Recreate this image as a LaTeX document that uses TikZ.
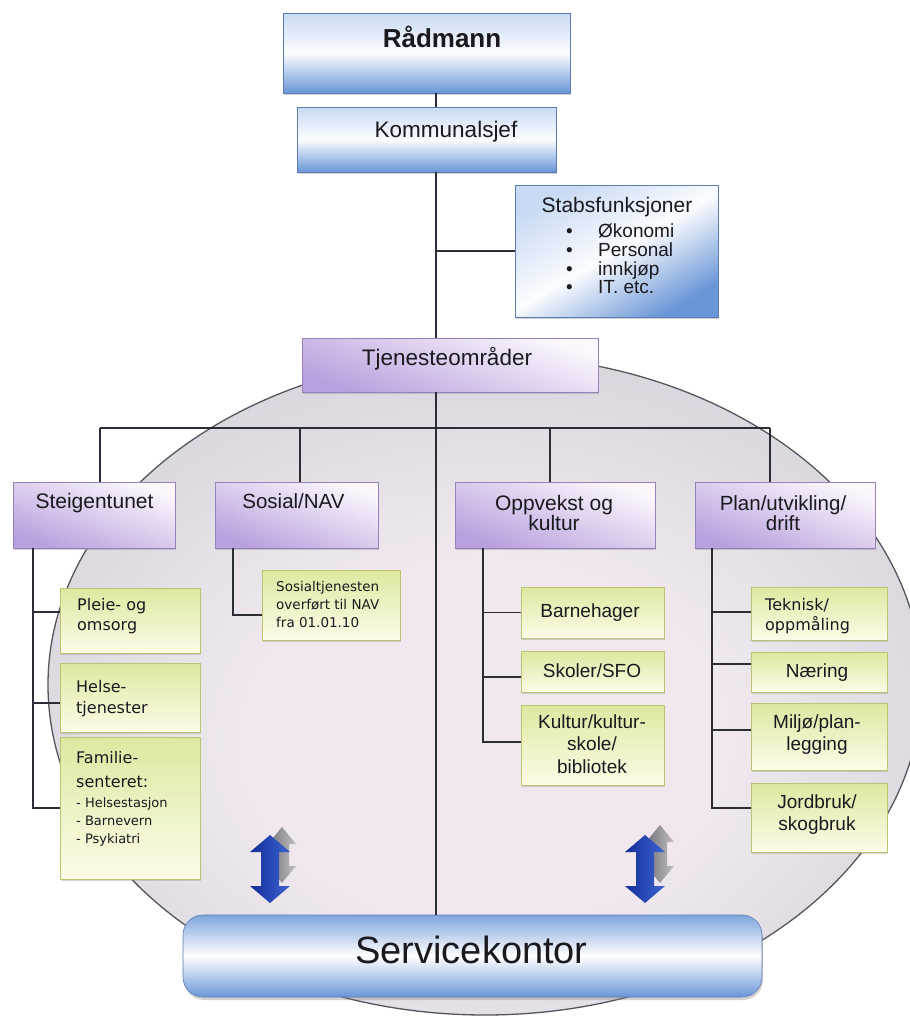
\documentclass[tikz,border=0pt]{standalone}
\usepackage{fontspec}
\setmainfont{Liberation Sans}
\newfontfamily\dvfont{DejaVu Sans}
\usetikzlibrary{shadows}
\definecolor{txtC}{RGB}{25,25,30}
\definecolor{lineC}{RGB}{45,45,55}
\definecolor{blT}{RGB}{200,218,244}
\definecolor{blB}{RGB}{105,150,215}
\definecolor{blE}{RGB}{90,125,180}
\definecolor{puT}{RGB}{253,247,253}
\definecolor{puB}{RGB}{185,160,222}
\definecolor{puE}{RGB}{150,130,185}
\definecolor{grT}{RGB}{222,232,160}
\definecolor{grB}{RGB}{252,252,232}
\definecolor{grE}{RGB}{190,195,110}
\definecolor{ellC}{RGB}{240,232,238}
\definecolor{ellM}{RGB}{212,209,218}
\definecolor{ellE}{RGB}{145,145,162}
\definecolor{ellL}{RGB}{85,85,92}
\definecolor{arB1}{RGB}{20,45,150}
\definecolor{arB2}{RGB}{60,100,210}
\definecolor{arG1}{RGB}{115,115,120}
\definecolor{arG2}{RGB}{190,190,195}
\pgfdeclareradialshading{ellshade}{\pgfpoint{0bp}{-6bp}}{color(0bp)=(ellC); color(14bp)=(ellC); color(32bp)=(ellM); color(50bp)=(ellE)}
\newcommand{\fsz}[2]{\fontsize{#1}{#2}\selectfont}
\newcommand{\boxat}[6]{\node[#1, minimum width={#5-#3}, minimum height={#6-#4}] (#2) at ({(#3+#5)/2},{(#4+#6)/2}) {};}
\newcommand{\tc}[5]{\node[txtnode, font=#2, anchor=base] (#1) at (#3,#4) {#5};}
\newcommand{\tw}[5]{\node[txtnode, font=#2, anchor=base west] (#1) at (#3,#4) {#5};}
\newcommand{\dblarr}[6]{\path[#1] (#2,#3) -- ({#2+#5},{#3+17}) -- ({#2+#6},{#3+17}) -- ({#2+#6},{#4-17}) -- ({#2+#5},{#4-17}) -- (#2,#4) -- ({#2-#5},{#4-17}) -- ({#2-#6},{#4-17}) -- ({#2-#6},{#3+17}) -- ({#2-#5},{#3+17}) -- cycle;}
\begin{document}
\begin{tikzpicture}[x=1pt,y=-1pt,
  conn/.style={draw=lineC, line width=1.2pt},
  bbox/.style={draw=blE, line width=0.6pt, inner sep=0pt, top color=blT, bottom color=blB, middle color=white!94!blT,
     drop shadow={shadow xshift=1pt,shadow yshift=-2pt,opacity=0.35}},
  pbox/.style={draw=puE, line width=0.5pt, inner sep=0pt, top color=puT, bottom color=puB, shading angle=-20,
     drop shadow={shadow xshift=1pt,shadow yshift=-2pt,opacity=0.35}},
  gbox/.style={draw=grE, line width=0.5pt, inner sep=0pt, top color=grT, bottom color=grB,
     drop shadow={shadow xshift=1pt,shadow yshift=-2pt,opacity=0.3}},
  sbox/.style={draw=blE, line width=0.6pt, inner sep=0pt, rounded corners=20pt, top color=blB!85, bottom color=blB, middle color=white,
     drop shadow={shadow xshift=1pt,shadow yshift=-3pt,opacity=0.35}},
  txtnode/.style={text=txtC, inner sep=0pt},
  bluear/.style={left color=arB1, right color=arB2},
  grayar/.style={left color=arG1, right color=arG2},
]
\useasboundingbox (0,0) rectangle (910,1018);
\fill[white] (0,0) rectangle (910,1018);
\clip (0,0) rectangle (910,1018);
% big ellipse
\path[shade, shading=ellshade, draw=ellL, line width=1.3pt] (485,685) ellipse [x radius=437pt, y radius=330pt];
% double arrows
\dblarr{grayar}{282}{827}{883}{14}{7}
\dblarr{bluear}{270}{835}{903}{20}{9}
\dblarr{grayar}{660}{825}{883}{14}{7}
\dblarr{bluear}{645}{835}{903}{20}{9}
% boxes
\boxat{bbox}{radmann}{283}{13}{570}{93}
\boxat{bbox}{kommunal}{297}{107}{556}{172}
\boxat{bbox, shading angle=30}{stab}{515}{185}{718}{317}
\boxat{pbox}{tjen}{302}{338}{598}{392}
\boxat{pbox}{steig}{13}{482}{175}{548}
\boxat{pbox}{sosial}{215}{482}{378}{548}
\boxat{pbox}{oppv}{455}{482}{655}{548}
\boxat{pbox}{plan}{695}{482}{875}{548}
\boxat{gbox}{pleie}{60}{588}{200}{653}
\boxat{gbox}{helse}{60}{663}{200}{732}
\boxat{gbox}{familie}{60}{737}{200}{879}
\boxat{gbox}{sostj}{262}{570}{400}{640}
\boxat{gbox}{barn}{521}{587}{664}{638}
\boxat{gbox}{skol}{521}{651}{664}{692}
\boxat{gbox}{kult}{521}{705}{664}{785}
\boxat{gbox}{tek}{751}{587}{887}{640}
\boxat{gbox}{naer}{751}{652}{887}{692}
\boxat{gbox}{milj}{751}{703}{887}{770}
\boxat{gbox}{jord}{751}{783}{887}{852}
\boxat{sbox}{service}{183}{915}{762}{997}
% connector coordinates
\coordinate (spine) at (436,0);
\coordinate (d1) at (100,428);
\coordinate (d2) at (300,428);
\coordinate (d3) at (550,428);
\coordinate (d4) at (770,428);
\coordinate (sv) at (33,0);
\coordinate (sx) at (233,0);
\coordinate (ov) at (483,0);
\coordinate (pv) at (712,0);
\coordinate (cPle) at ([yshift=8.5pt]pleie.west);
\coordinate (cHel) at ([yshift=-5.5pt]helse.west);
\coordinate (cSos) at ([yshift=-10pt]sostj.west);
\coordinate (cSko) at ([yshift=-5.5pt]skol.west);
\coordinate (cKul) at ([yshift=3pt]kult.west);
\coordinate (cTek) at ([yshift=1.5pt]tek.west);
\coordinate (cNae) at ([yshift=8pt]naer.west);
\coordinate (cMil) at ([yshift=6.5pt]milj.west);
\coordinate (cJor) at ([yshift=9.5pt]jord.west);
% connectors
\draw[conn] (radmann.south -| spine) -- (kommunal.north -| spine);
\draw[conn] (kommunal.south -| spine) -- (tjen.north -| spine);
\draw[conn] (spine |- stab.west) -- (stab.west);
\draw[conn] (tjen.south -| spine) -- (service.north -| spine);
\draw[conn] (d1) -- (d4);
\draw[conn] (d1) -- (d1 |- steig.north);
\draw[conn] (d2) -- (d2 |- sosial.north);
\draw[conn] (d3) -- (d3 |- oppv.north);
\draw[conn] (d4) -- (d4 |- plan.north);
\draw[conn] (sv |- steig.south) |- (familie.west);
\draw[conn] (cPle -| sv) -- (cPle);
\draw[conn] (cHel -| sv) -- (cHel);
\draw[conn] (sx |- sosial.south) |- (cSos);
\draw[conn] (ov |- oppv.south) |- (cKul);
\draw[conn] (barn.west -| ov) -- (barn.west);
\draw[conn] (cSko -| ov) -- (cSko);
\draw[conn] (pv |- plan.south) |- (cJor);
\draw[conn] (cTek -| pv) -- (cTek);
\draw[conn] (cNae -| pv) -- (cNae);
\draw[conn] (cMil -| pv) -- (cMil);
% texts
\tc{tRad}{\fsz{26}{30}\bfseries}{442}{47}{Rådmann}
\tc{tKom}{\fsz{22.5}{26}}{446}{137}{Kommunalsjef}
\tc{tStab}{\fsz{21}{24}}{617}{212}{Stabsfunksjoner}
\tw{tS1}{\fsz{19}{22}}{566}{237}{\makebox[32pt][l]{•}Økonomi}
\tw{tS2}{\fsz{19}{22}}{566}{256}{\makebox[32pt][l]{•}Personal}
\tw{tS3}{\fsz{19}{22}}{566}{275}{\makebox[32pt][l]{•}innkjøp}
\tw{tS4}{\fsz{19}{22}}{566}{293}{\makebox[32pt][l]{•}IT. etc.}
\tc{tTjen}{\fsz{22.5}{26}}{447}{365}{Tjenesteområder}
\tc{tSteig}{\fsz{21}{24}}{94.5}{508}{Steigentunet}
\tc{tSos}{\fsz{20.5}{24}}{293.5}{508}{Sosial/NAV}
\tc{tOpp1}{\fsz{21}{24}}{554}{510}{Oppvekst og}
\tc{tOpp2}{\fsz{21}{24}}{554}{530}{kultur}
\tc{tPlan1}{\fsz{20.5}{24}}{783}{510}{Plan/utvikling/}
\tc{tPlan2}{\fsz{20.5}{24}}{783}{530}{drift}
\tw{tPle1}{\dvfont\fsz{16}{19}}{77}{610}{Pleie- og}
\tw{tPle2}{\dvfont\fsz{16}{19}}{77}{630}{omsorg}
\tw{tHel1}{\dvfont\fsz{16}{19}}{76}{692}{Helse-}
\tw{tHel2}{\dvfont\fsz{16}{19}}{76}{713}{tjenester}
\tw{tFam1}{\dvfont\fsz{16}{19}}{76}{763}{Familie-}
\tw{tFam2}{\dvfont\fsz{16}{19}}{76}{787}{senteret:}
\tw{tFam3}{\dvfont\fsz{13}{16}}{76}{807}{- Helsestasjon}
\tw{tFam4}{\dvfont\fsz{13}{16}}{76}{825}{- Barnevern}
\tw{tFam5}{\dvfont\fsz{13}{16}}{76}{843}{- Psykiatri}
\tw{tSt1}{\dvfont\fsz{13.5}{16}}{276}{591}{Sosialtjenesten}
\tw{tSt2}{\dvfont\fsz{13.5}{16}}{276}{609}{overført til NAV}
\tw{tSt3}{\dvfont\fsz{13.5}{16}}{276}{627}{fra 01.01.10}
\tc{tBarn}{\fsz{19}{22}}{590}{617}{Barnehager}
\tc{tSko}{\fsz{19}{22}}{592}{677}{Skoler/SFO}
\tc{tKul1}{\fsz{19}{22}}{592}{728}{Kultur/kultur-}
\tc{tKul2}{\fsz{19}{22}}{592}{750}{skole/}
\tc{tKul3}{\fsz{19}{22}}{592}{773}{bibliotek}
\tw{tTek1}{\dvfont\fsz{16}{19}}{765}{610}{Teknisk/}
\tw{tTek2}{\dvfont\fsz{16}{19}}{765}{630}{oppmåling}
\tc{tNae}{\fsz{19}{22}}{817}{677}{Næring}
\tc{tMil1}{\fsz{19}{22}}{817}{728}{Miljø/plan-}
\tc{tMil2}{\fsz{19}{22}}{817}{750}{legging}
\tc{tJor1}{\fsz{19}{22}}{817}{808}{Jordbruk/}
\tc{tJor2}{\fsz{19}{22}}{817}{830}{skogbruk}
\tc{tServ}{\fsz{38}{44}}{471.5}{963}{Servicekontor}
\end{tikzpicture}
\end{document}
